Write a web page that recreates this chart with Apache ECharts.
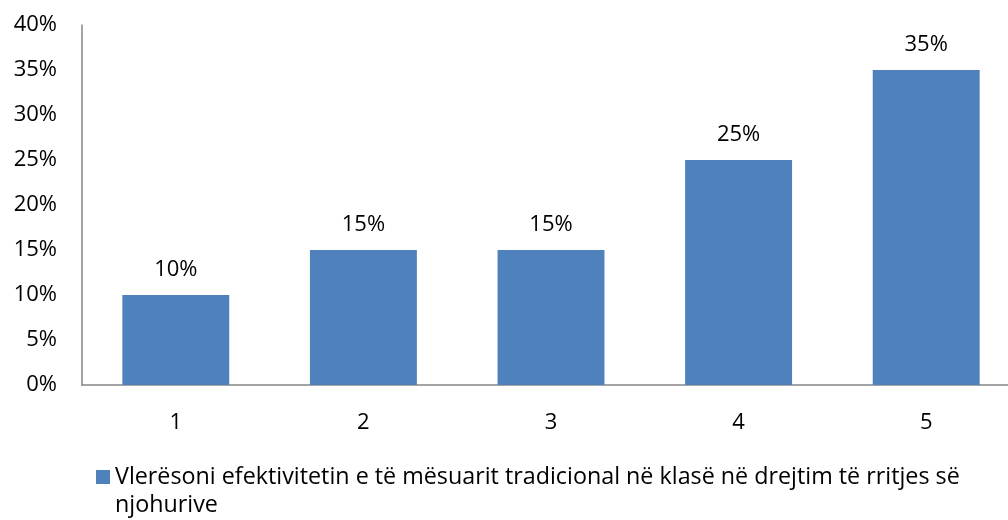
<!DOCTYPE html>
<html><head><meta charset="utf-8">
<script src="https://cdn.jsdelivr.net/npm/echarts@6/dist/echarts.min.js"></script>
<style>html,body{margin:0;padding:0;background:#fff}#c{width:1008px;height:520px}</style>
</head><body><div id="c"></div>
<script>
const categories = ['1','2','3','4','5'];
const values = [10, 15, 15, 25, 35];
const seriesName = 'Vlerësoni efektivitetin e të mësuarit tradicional në klasë në drejtim të rritjes së njohurive';
const yTicks = [0, 5, 10, 15, 20, 25, 30, 35, 40];

const font = "'Open Sans', 'Noto Sans', sans-serif";
const fs = 22;
const chart = echarts.init(document.getElementById('c'));
chart.setOption({
  animation: false,
  textStyle: {fontFamily: font},
  grid: {left: 82, width: 938, top: 25, bottom: 135, containLabel: false, outerBoundsMode: 'none'},
  xAxis: {
    type: 'category', data: categories,
    axisLine: {lineStyle: {color: '#868686', width: 1.5}},
    axisTick: {show: false},
    axisLabel: {color: '#000', fontSize: fs, fontFamily: font, margin: 27}
  },
  yAxis: {
    type: 'value', min: yTicks[0], max: yTicks[yTicks.length-1], interval: 5,
    axisLine: {show: true, lineStyle: {color: '#868686', width: 1.5}},
    axisTick: {show: false},
    splitLine: {show: false},
    axisLabel: {color: '#000', fontSize: fs, fontFamily: font, margin: 25, formatter: v => v + '%'}
  },
  legend: {
    left: 91, top: 458, itemWidth: 14, itemHeight: 42, itemGap: 8,
    icon: 'path://M0,0L14,0L14,14L0,14ZM0,42',
    textStyle: {color: '#000', fontSize: 23.3, fontFamily: font, width: 945, overflow: 'break', lineHeight: 28}
  },
  series: [{
    type: 'bar', name: seriesName, data: values, barWidth: '57%',
    itemStyle: {color: '#4F81BD'},
    label: {show: true, position: 'top', distance: 14, color: '#000', fontSize: fs, fontFamily: font, formatter: p => p.value + '%'}
  }]
});
</script></body></html>
